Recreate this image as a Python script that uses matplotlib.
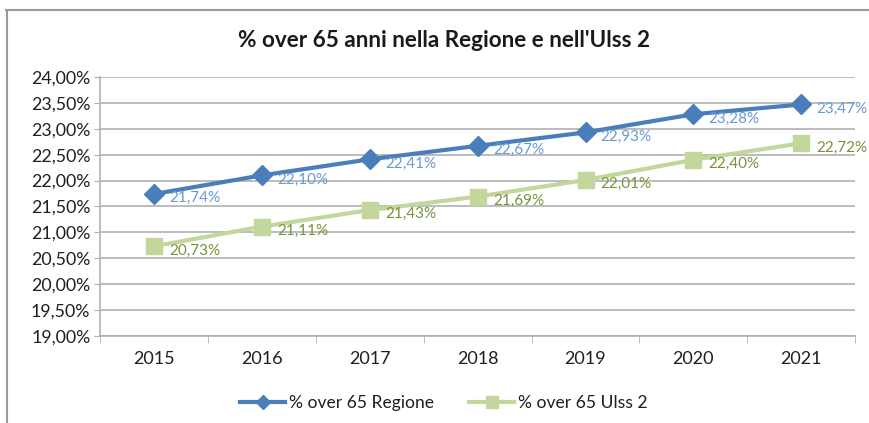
import matplotlib.pyplot as plt
from matplotlib.lines import Line2D
from matplotlib.ticker import FuncFormatter, FixedLocator

plt.rcParams['font.family'] = ['Lato', 'DejaVu Sans']

anni = ['2015', '2016', '2017', '2018', '2019', '2020', '2021']
regione = [21.74, 22.10, 22.41, 22.67, 22.93, 23.28, 23.47]
ulss2 = [20.73, 21.11, 21.43, 21.69, 22.01, 22.40, 22.72]
nome_regione = '% over 65 Regione'
nome_ulss2 = '% over 65 Ulss 2'
titolo = "% over 65 anni nella Regione e nell'Ulss 2"

BLU = '#4a7ebb'
BLU_LAB = '#6a9ad6'
VERDE = '#c3d69b'
VERDE_LAB = '#77933c'
GRIGIO = '#b0b0b0'

def pct(v):
    return ('%.2f%%' % v).replace('.', ',')

fig = plt.figure(figsize=(8.7, 4.23), dpi=100)
ax = fig.add_axes([0.115, 0.206, 0.868, 0.612])

x = list(range(len(anni)))
ax.plot(x, regione, color=BLU, lw=3.0, marker='D', ms=10, mec=BLU, mfc=BLU, zorder=4, label=nome_regione)
ax.plot(x, ulss2, color=VERDE, lw=3.0, marker='s', ms=12, mec=VERDE, mfc=VERDE, zorder=3, label=nome_ulss2)

for xi, v in zip(x, regione):
    ax.annotate(pct(v), (xi, v), xytext=(11, -3), textcoords='offset points',
                ha='left', va='center', fontsize=11, color=BLU_LAB, zorder=5)
for xi, v in zip(x, ulss2):
    ax.annotate(pct(v), (xi, v), xytext=(11, -3), textcoords='offset points',
                ha='left', va='center', fontsize=11, color=VERDE_LAB, zorder=5)

ax.set_xlim(-0.5, len(anni) - 0.5)
ax.set_ylim(19, 24)
ax.set_yticks([19 + 0.5 * i for i in range(11)])
ax.yaxis.set_major_formatter(FuncFormatter(lambda v, p: pct(v)))
ax.set_xticks(x)
ax.set_xticklabels(anni)
ax.xaxis.set_minor_locator(FixedLocator([i - 0.5 for i in range(len(anni) + 1)]))
ax.tick_params(axis='x', which='major', length=0, pad=11, labelsize=13, labelcolor='#1f1f1f')
ax.tick_params(axis='x', which='minor', length=5, color=GRIGIO, direction='out')
ax.tick_params(axis='y', length=4, color=GRIGIO, pad=3, labelsize=12.8, labelcolor='#1f1f1f')

ax.grid(axis='y', color=GRIGIO, lw=1.2)
ax.set_axisbelow(True)
for s in ['top', 'right']:
    ax.spines[s].set_visible(False)
ax.spines['left'].set_color(GRIGIO)
ax.spines['bottom'].set_color(GRIGIO)
ax.spines['left'].set_linewidth(1.2)
ax.spines['bottom'].set_linewidth(1.2)

fig.text(0.51, 0.905, titolo, ha='center', va='center', fontsize=16.2, fontweight='bold', color='#1a1a1a')

handles = [Line2D([], [], color=BLU, lw=3, marker='D', ms=7),
           Line2D([], [], color=VERDE, lw=3, marker='s', ms=9)]
fig.legend(handles, [nome_regione, nome_ulss2], loc='center', bbox_to_anchor=(0.51, 0.048),
           ncol=2, frameon=False, fontsize=12.6, handlelength=2.6, handletextpad=0.2,
           columnspacing=2.0, labelcolor='#1f1f1f')

# cornice esterna
fig.add_artist(Line2D([0.007, 1.0], [0.976, 0.976], transform=fig.transFigure, color='#9a9a9a', lw=1.5))
fig.add_artist(Line2D([0.008, 0.008], [0.0, 0.976], transform=fig.transFigure, color='#9a9a9a', lw=1.5))

fig.savefig('out.png', dpi=100)
